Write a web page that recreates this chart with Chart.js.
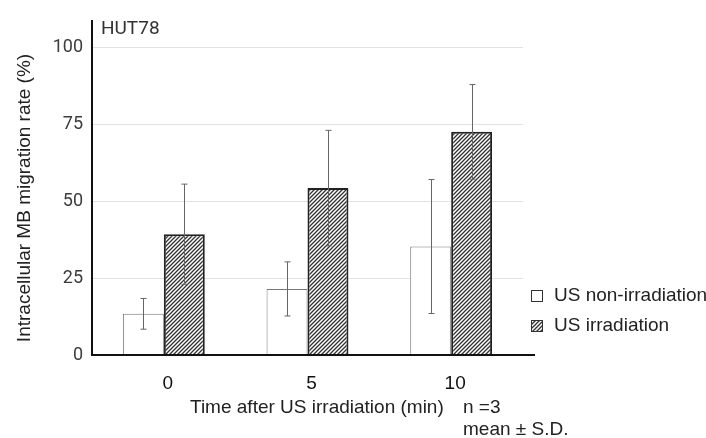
<!DOCTYPE html>
<html>
<head>
<meta charset="utf-8">
<script src="https://cdn.jsdelivr.net/npm/chart.js@4"></script>
<style>
html, body { margin: 0; padding: 0; background: #fff; }
#wrap { width: 706px; height: 438px; position: relative; }
</style>
</head>
<body>
<div id="wrap"><canvas id="chart" width="706" height="438"></canvas></div>
<script>
// data
const times = ['0', '5', '10'];
const nonIrrMean = [13.4, 21.5, 35.3];
const nonIrrSD = [5.0, 8.8, 21.8];
const irrMean = [39.3, 54.3, 72.6];
const irrSD = [16.3, 18.8, 15.4];
const yTicks = [0, 25, 50, 75, 100];
const seriesNames = ['US non-irradiation', 'US irradiation'];

const LABEL_FONT = '19px "Liberation Sans", Arial, sans-serif';

// diagonal hatch for the irradiated bars
function makeHatch() {
    const c = document.createElement('canvas');
    c.width = 4;
    c.height = 4;
    const g = c.getContext('2d');
    g.fillStyle = '#fff';
    g.fillRect(0, 0, 4, 4);
    g.strokeStyle = '#333';
    g.lineWidth = 1.3;
    g.beginPath();
    g.moveTo(-1, 5); g.lineTo(5, -1);
    g.moveTo(-1, 1); g.lineTo(1, -1);
    g.moveTo(3, 5); g.lineTo(5, 3);
    g.stroke();
    return g.createPattern(c, 'repeat');
}
const hatch = makeHatch();

const errorBars = {
    id: 'errorBars',
    afterDatasetsDraw(chart) {
        const ctx = chart.ctx;
        const y = chart.scales.y;
        const sds = [nonIrrSD, irrSD];
        ctx.save();
        ctx.strokeStyle = '#666';
        ctx.lineWidth = 1;
        chart.data.datasets.forEach((ds, di) => {
            chart.getDatasetMeta(di).data.forEach((bar, i) => {
                const x = Math.round(bar.x) + 0.5;
                const top = y.getPixelForValue(ds.data[i] + sds[di][i]);
                const bot = y.getPixelForValue(ds.data[i] - sds[di][i]);
                ctx.beginPath();
                ctx.moveTo(x, top); ctx.lineTo(x, bot);
                ctx.moveTo(x - 3, top); ctx.lineTo(x + 3, top);
                ctx.moveTo(x - 3, bot); ctx.lineTo(x + 3, bot);
                ctx.stroke();
            });
        });
        ctx.restore();
    }
};

const decorations = {
    id: 'decorations',
    afterDraw(chart) {
        const ctx = chart.ctx;
        const a = chart.chartArea;
        ctx.save();
        // axis lines
        ctx.strokeStyle = '#111';
        ctx.lineWidth = 2;
        ctx.beginPath();
        ctx.moveTo(a.left, a.top);
        ctx.lineTo(a.left, a.bottom);
        ctx.lineTo(a.right + 12, a.bottom);
        ctx.stroke();

        // panel label
        ctx.fillStyle = '#333';
        ctx.font = '19px Roboto, sans-serif';
        ctx.textBaseline = 'alphabetic';
        ctx.textAlign = 'left';
        ctx.fillText('HUT78', 101, 34);

        // axis titles
        ctx.fillStyle = '#222';
        ctx.font = LABEL_FONT;
        ctx.textBaseline = 'middle';
        ctx.textAlign = 'left';
        ctx.fillText('Time after US irradiation (min)', 190, 408);
        ctx.fillText('n =3', 463, 408);
        ctx.fillText('mean \u00b1 S.D.', 463, 430);

        ctx.save();
        ctx.translate(25, 198);
        ctx.rotate(-Math.PI / 2);
        ctx.textAlign = 'center';
        ctx.fillText('Intracellular MB migration rate (%)', 0, 0);
        ctx.restore();

        // legend
        const fills = ['#fff', hatch];
        seriesNames.forEach((name, i) => {
            const ly = 296 + i * 30;
            ctx.fillStyle = fills[i];
            ctx.fillRect(531, ly - 6, 12, 12);
            ctx.strokeStyle = '#333';
            ctx.lineWidth = 1;
            ctx.strokeRect(531.5, ly - 5.5, 11, 11);
            ctx.fillStyle = '#222';
            ctx.fillText(name, 554, ly);
        });
        ctx.restore();
    }
};

new Chart(document.getElementById('chart'), {
    type: 'bar',
    data: {
        labels: times,
        datasets: [
            {
                label: seriesNames[0],
                data: nonIrrMean,
                backgroundColor: '#fff',
                borderColor: '#777',
                borderWidth: 1
            },
            {
                label: seriesNames[1],
                data: irrMean,
                backgroundColor: hatch,
                borderColor: '#222',
                borderWidth: 2
            }
        ]
    },
    options: {
        responsive: false,
        animation: false,
        devicePixelRatio: 1,
        layout: { padding: { left: 0, top: 20, right: 183, bottom: 0 } },
        datasets: { bar: { categoryPercentage: 0.57, barPercentage: 1 } },
        plugins: { legend: { display: false }, tooltip: { enabled: false } },
        scales: {
            x: {
                grid: { display: false },
                border: { display: false },
                ticks: {
                    color: '#111',
                    font: { family: '"Liberation Sans", Arial, sans-serif', size: 19 },
                    padding: 9,
                    labelOffset: 4
                },
                afterFit(scale) { scale.height = 83; }
            },
            y: {
                min: 0,
                max: 109,
                afterBuildTicks(scale) { scale.ticks = yTicks.map(v => ({ value: v })); },
                grid: {
                    color: c => c.tick && c.tick.value === 0 ? 'rgba(0,0,0,0)' : '#e2e2e2',
                    drawTicks: false
                },
                border: { display: false },
                ticks: {
                    color: '#3c3c3c',
                    font: { family: 'Roboto, sans-serif', size: 18 },
                    padding: 9
                },
                afterFit(scale) { scale.width = 92; }
            }
        }
    },
    plugins: [errorBars, decorations]
});
</script>
</body>
</html>
